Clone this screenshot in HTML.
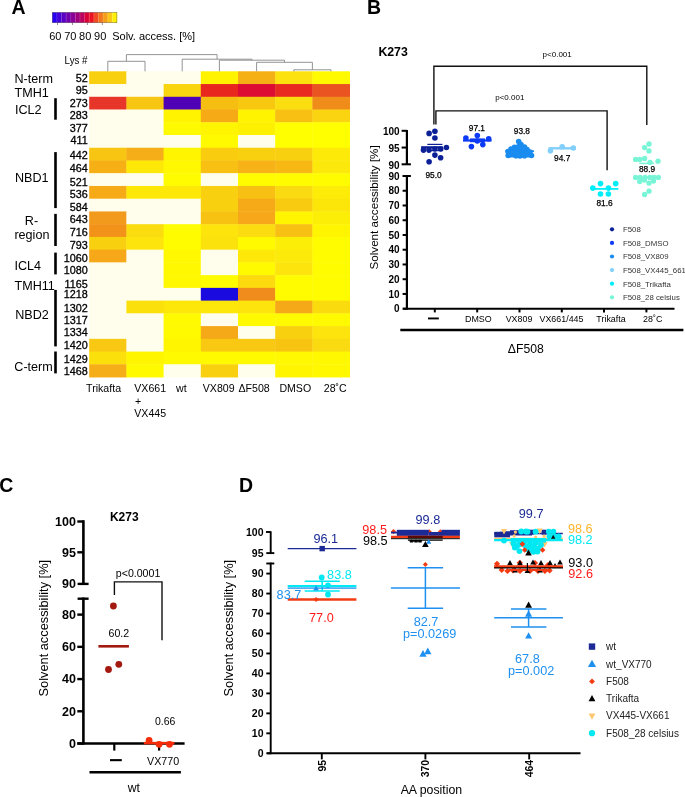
<!DOCTYPE html>
<html><head><meta charset="utf-8"><style>
html,body{margin:0;padding:0;background:#fff;}
svg{display:block;font-family:"Liberation Sans", sans-serif;will-change:transform;}
</style></head><body>
<svg width="685" height="797" viewBox="0 0 685 797">
<rect width="685" height="797" fill="#fff"/>
<text x="11.6" y="14.0" font-size="19.5" text-anchor="start" font-weight="bold" fill="#000" >A</text>
<rect x="52.2" y="12.3" width="4.921428571428572" height="10.5" fill="#2a00f0"/>
<rect x="56.82142857142858" y="12.3" width="4.921428571428572" height="10.5" fill="#4400d8"/>
<rect x="61.44285714285715" y="12.3" width="4.921428571428572" height="10.5" fill="#5a00c4"/>
<rect x="66.06428571428572" y="12.3" width="4.921428571428572" height="10.5" fill="#7000ac"/>
<rect x="70.68571428571428" y="12.3" width="4.921428571428572" height="10.5" fill="#880096"/>
<rect x="75.30714285714286" y="12.3" width="4.921428571428572" height="10.5" fill="#a0007c"/>
<rect x="79.92857142857143" y="12.3" width="4.921428571428572" height="10.5" fill="#bb0060"/>
<rect x="84.55000000000001" y="12.3" width="4.921428571428572" height="10.5" fill="#da0038"/>
<rect x="89.17142857142858" y="12.3" width="4.921428571428572" height="10.5" fill="#ec1424"/>
<rect x="93.79285714285714" y="12.3" width="4.921428571428572" height="10.5" fill="#ef4a20"/>
<rect x="98.41428571428573" y="12.3" width="4.921428571428572" height="10.5" fill="#f2761c"/>
<rect x="103.03571428571429" y="12.3" width="4.921428571428572" height="10.5" fill="#f59e18"/>
<rect x="107.65714285714287" y="12.3" width="4.921428571428572" height="10.5" fill="#f9c614"/>
<rect x="112.27857142857144" y="12.3" width="4.921428571428572" height="10.5" fill="#fff000"/>
<line x1="56.82142857142858" y1="12.3" x2="56.82142857142858" y2="22.8" stroke="#ffffff" stroke-width="0.5" stroke-opacity="0.35"/>
<line x1="61.44285714285715" y1="12.3" x2="61.44285714285715" y2="22.8" stroke="#ffffff" stroke-width="0.5" stroke-opacity="0.35"/>
<line x1="66.06428571428572" y1="12.3" x2="66.06428571428572" y2="22.8" stroke="#ffffff" stroke-width="0.5" stroke-opacity="0.35"/>
<line x1="70.68571428571428" y1="12.3" x2="70.68571428571428" y2="22.8" stroke="#ffffff" stroke-width="0.5" stroke-opacity="0.35"/>
<line x1="75.30714285714286" y1="12.3" x2="75.30714285714286" y2="22.8" stroke="#ffffff" stroke-width="0.5" stroke-opacity="0.35"/>
<line x1="79.92857142857143" y1="12.3" x2="79.92857142857143" y2="22.8" stroke="#ffffff" stroke-width="0.5" stroke-opacity="0.35"/>
<line x1="84.55000000000001" y1="12.3" x2="84.55000000000001" y2="22.8" stroke="#ffffff" stroke-width="0.5" stroke-opacity="0.35"/>
<line x1="89.17142857142858" y1="12.3" x2="89.17142857142858" y2="22.8" stroke="#ffffff" stroke-width="0.5" stroke-opacity="0.35"/>
<line x1="93.79285714285714" y1="12.3" x2="93.79285714285714" y2="22.8" stroke="#ffffff" stroke-width="0.5" stroke-opacity="0.35"/>
<line x1="98.41428571428573" y1="12.3" x2="98.41428571428573" y2="22.8" stroke="#ffffff" stroke-width="0.5" stroke-opacity="0.35"/>
<line x1="103.03571428571429" y1="12.3" x2="103.03571428571429" y2="22.8" stroke="#ffffff" stroke-width="0.5" stroke-opacity="0.35"/>
<line x1="107.65714285714287" y1="12.3" x2="107.65714285714287" y2="22.8" stroke="#ffffff" stroke-width="0.5" stroke-opacity="0.35"/>
<line x1="112.27857142857144" y1="12.3" x2="112.27857142857144" y2="22.8" stroke="#ffffff" stroke-width="0.5" stroke-opacity="0.35"/>
<rect x="52.2" y="12.3" width="64.7" height="10.5" fill="none" stroke="#555" stroke-width="0.4"/>
<line x1="57.5" y1="22.8" x2="57.5" y2="25" stroke="#444" stroke-width="0.6" />
<text x="55.3" y="40.2" font-size="11" text-anchor="middle" fill="#000" >60</text>
<line x1="72.45" y1="22.8" x2="72.45" y2="25" stroke="#444" stroke-width="0.6" />
<text x="70.25" y="40.2" font-size="11" text-anchor="middle" fill="#000" >70</text>
<line x1="87.4" y1="22.8" x2="87.4" y2="25" stroke="#444" stroke-width="0.6" />
<text x="85.2" y="40.2" font-size="11" text-anchor="middle" fill="#000" >80</text>
<line x1="102.35" y1="22.8" x2="102.35" y2="25" stroke="#444" stroke-width="0.6" />
<text x="100.14999999999999" y="40.2" font-size="11" text-anchor="middle" fill="#000" >90</text>
<text x="112.2" y="40.2" font-size="11" text-anchor="start" fill="#000" >Solv. access. [%]</text>
<rect x="89.20" y="71.30" width="37.60" height="13.14" fill="#f8d010"/>
<rect x="126.40" y="71.30" width="37.60" height="13.14" fill="#fffeec"/>
<rect x="163.60" y="71.30" width="37.60" height="13.14" fill="#fffeec"/>
<rect x="200.80" y="71.30" width="37.60" height="13.14" fill="#fff300"/>
<rect x="238.00" y="71.30" width="37.60" height="13.14" fill="#f5b015"/>
<rect x="275.20" y="71.30" width="37.60" height="13.14" fill="#fce20e"/>
<rect x="312.40" y="71.30" width="37.60" height="13.14" fill="#fffa00"/>
<rect x="89.20" y="84.04" width="37.60" height="13.14" fill="#fffeec"/>
<rect x="126.40" y="84.04" width="37.60" height="13.14" fill="#fffeec"/>
<rect x="163.60" y="84.04" width="37.60" height="13.14" fill="#f9d510"/>
<rect x="200.80" y="84.04" width="37.60" height="13.14" fill="#e8281e"/>
<rect x="238.00" y="84.04" width="37.60" height="13.14" fill="#dc0c32"/>
<rect x="275.20" y="84.04" width="37.60" height="13.14" fill="#e82a20"/>
<rect x="312.40" y="84.04" width="37.60" height="13.14" fill="#ea5420"/>
<rect x="89.20" y="96.78" width="37.60" height="13.14" fill="#e8352a"/>
<rect x="126.40" y="96.78" width="37.60" height="13.14" fill="#f7c612"/>
<rect x="163.60" y="96.78" width="37.60" height="13.14" fill="#5000b4"/>
<rect x="200.80" y="96.78" width="37.60" height="13.14" fill="#f7be12"/>
<rect x="238.00" y="96.78" width="37.60" height="13.14" fill="#f8c810"/>
<rect x="275.20" y="96.78" width="37.60" height="13.14" fill="#fade10"/>
<rect x="312.40" y="96.78" width="37.60" height="13.14" fill="#f08c1a"/>
<rect x="89.20" y="109.52" width="37.60" height="13.14" fill="#fffeec"/>
<rect x="126.40" y="109.52" width="37.60" height="13.14" fill="#fffeec"/>
<rect x="163.60" y="109.52" width="37.60" height="13.14" fill="#fff300"/>
<rect x="200.80" y="109.52" width="37.60" height="13.14" fill="#f5aa16"/>
<rect x="238.00" y="109.52" width="37.60" height="13.14" fill="#fff300"/>
<rect x="275.20" y="109.52" width="37.60" height="13.14" fill="#f8c012"/>
<rect x="312.40" y="109.52" width="37.60" height="13.14" fill="#fad410"/>
<rect x="89.20" y="122.26" width="37.60" height="13.14" fill="#fffeec"/>
<rect x="126.40" y="122.26" width="37.60" height="13.14" fill="#fffeec"/>
<rect x="163.60" y="122.26" width="37.60" height="13.14" fill="#fffa00"/>
<rect x="200.80" y="122.26" width="37.60" height="13.14" fill="#fff500"/>
<rect x="238.00" y="122.26" width="37.60" height="13.14" fill="#fdf000"/>
<rect x="275.20" y="122.26" width="37.60" height="13.14" fill="#ffff00"/>
<rect x="312.40" y="122.26" width="37.60" height="13.14" fill="#ffff00"/>
<rect x="89.20" y="135.00" width="37.60" height="13.14" fill="#fffeec"/>
<rect x="126.40" y="135.00" width="37.60" height="13.14" fill="#fffeec"/>
<rect x="163.60" y="135.00" width="37.60" height="13.14" fill="#fffeec"/>
<rect x="200.80" y="135.00" width="37.60" height="13.14" fill="#fffa00"/>
<rect x="238.00" y="135.00" width="37.60" height="13.14" fill="#fffeec"/>
<rect x="275.20" y="135.00" width="37.60" height="13.14" fill="#ffff00"/>
<rect x="312.40" y="135.00" width="37.60" height="13.14" fill="#ffff00"/>
<rect x="89.20" y="147.74" width="37.60" height="13.14" fill="#f8c512"/>
<rect x="126.40" y="147.74" width="37.60" height="13.14" fill="#f6ae18"/>
<rect x="163.60" y="147.74" width="37.60" height="13.14" fill="#fff500"/>
<rect x="200.80" y="147.74" width="37.60" height="13.14" fill="#f9cc10"/>
<rect x="238.00" y="147.74" width="37.60" height="13.14" fill="#f9d010"/>
<rect x="275.20" y="147.74" width="37.60" height="13.14" fill="#f9d010"/>
<rect x="312.40" y="147.74" width="37.60" height="13.14" fill="#fdea08"/>
<rect x="89.20" y="160.48" width="37.60" height="13.14" fill="#f6b016"/>
<rect x="126.40" y="160.48" width="37.60" height="13.14" fill="#fde808"/>
<rect x="163.60" y="160.48" width="37.60" height="13.14" fill="#fff800"/>
<rect x="200.80" y="160.48" width="37.60" height="13.14" fill="#f8c012"/>
<rect x="238.00" y="160.48" width="37.60" height="13.14" fill="#f6b216"/>
<rect x="275.20" y="160.48" width="37.60" height="13.14" fill="#f7b814"/>
<rect x="312.40" y="160.48" width="37.60" height="13.14" fill="#fce80a"/>
<rect x="89.20" y="173.22" width="37.60" height="13.14" fill="#fffeec"/>
<rect x="126.40" y="173.22" width="37.60" height="13.14" fill="#fffeec"/>
<rect x="163.60" y="173.22" width="37.60" height="13.14" fill="#fffc00"/>
<rect x="200.80" y="173.22" width="37.60" height="13.14" fill="#fffeec"/>
<rect x="238.00" y="173.22" width="37.60" height="13.14" fill="#fffc00"/>
<rect x="275.20" y="173.22" width="37.60" height="13.14" fill="#fffc00"/>
<rect x="312.40" y="173.22" width="37.60" height="13.14" fill="#fffc00"/>
<rect x="89.20" y="185.96" width="37.60" height="13.14" fill="#f6aa18"/>
<rect x="126.40" y="185.96" width="37.60" height="13.14" fill="#fde808"/>
<rect x="163.60" y="185.96" width="37.60" height="13.14" fill="#fde808"/>
<rect x="200.80" y="185.96" width="37.60" height="13.14" fill="#f9d010"/>
<rect x="238.00" y="185.96" width="37.60" height="13.14" fill="#f8c012"/>
<rect x="275.20" y="185.96" width="37.60" height="13.14" fill="#fada10"/>
<rect x="312.40" y="185.96" width="37.60" height="13.14" fill="#fdec08"/>
<rect x="89.20" y="198.70" width="37.60" height="13.14" fill="#fffeec"/>
<rect x="126.40" y="198.70" width="37.60" height="13.14" fill="#fffeec"/>
<rect x="163.60" y="198.70" width="37.60" height="13.14" fill="#fffeec"/>
<rect x="200.80" y="198.70" width="37.60" height="13.14" fill="#f9d010"/>
<rect x="238.00" y="198.70" width="37.60" height="13.14" fill="#f6aa18"/>
<rect x="275.20" y="198.70" width="37.60" height="13.14" fill="#f8ca10"/>
<rect x="312.40" y="198.70" width="37.60" height="13.14" fill="#fce60a"/>
<rect x="89.20" y="211.44" width="37.60" height="13.14" fill="#f29a1c"/>
<rect x="126.40" y="211.44" width="37.60" height="13.14" fill="#fffeec"/>
<rect x="163.60" y="211.44" width="37.60" height="13.14" fill="#fffeec"/>
<rect x="200.80" y="211.44" width="37.60" height="13.14" fill="#f8c212"/>
<rect x="238.00" y="211.44" width="37.60" height="13.14" fill="#f6a81a"/>
<rect x="275.20" y="211.44" width="37.60" height="13.14" fill="#fff500"/>
<rect x="312.40" y="211.44" width="37.60" height="13.14" fill="#fdee08"/>
<rect x="89.20" y="224.18" width="37.60" height="13.14" fill="#f29218"/>
<rect x="126.40" y="224.18" width="37.60" height="13.14" fill="#fbdc0e"/>
<rect x="163.60" y="224.18" width="37.60" height="13.14" fill="#fffc00"/>
<rect x="200.80" y="224.18" width="37.60" height="13.14" fill="#fce40c"/>
<rect x="238.00" y="224.18" width="37.60" height="13.14" fill="#fadc10"/>
<rect x="275.20" y="224.18" width="37.60" height="13.14" fill="#f8c012"/>
<rect x="312.40" y="224.18" width="37.60" height="13.14" fill="#fff500"/>
<rect x="89.20" y="236.92" width="37.60" height="13.14" fill="#f9d010"/>
<rect x="126.40" y="236.92" width="37.60" height="13.14" fill="#fde40c"/>
<rect x="163.60" y="236.92" width="37.60" height="13.14" fill="#fffc00"/>
<rect x="200.80" y="236.92" width="37.60" height="13.14" fill="#fce20c"/>
<rect x="238.00" y="236.92" width="37.60" height="13.14" fill="#fffa00"/>
<rect x="275.20" y="236.92" width="37.60" height="13.14" fill="#fdee08"/>
<rect x="312.40" y="236.92" width="37.60" height="13.14" fill="#fffc00"/>
<rect x="89.20" y="249.66" width="37.60" height="13.14" fill="#f6a818"/>
<rect x="126.40" y="249.66" width="37.60" height="13.14" fill="#fffeec"/>
<rect x="163.60" y="249.66" width="37.60" height="13.14" fill="#fff800"/>
<rect x="200.80" y="249.66" width="37.60" height="13.14" fill="#fffeec"/>
<rect x="238.00" y="249.66" width="37.60" height="13.14" fill="#fde80a"/>
<rect x="275.20" y="249.66" width="37.60" height="13.14" fill="#fcea0a"/>
<rect x="312.40" y="249.66" width="37.60" height="13.14" fill="#fffc00"/>
<rect x="89.20" y="262.40" width="37.60" height="13.14" fill="#fffeec"/>
<rect x="126.40" y="262.40" width="37.60" height="13.14" fill="#fffeec"/>
<rect x="163.60" y="262.40" width="37.60" height="13.14" fill="#fff800"/>
<rect x="200.80" y="262.40" width="37.60" height="13.14" fill="#fffeec"/>
<rect x="238.00" y="262.40" width="37.60" height="13.14" fill="#fffa00"/>
<rect x="275.20" y="262.40" width="37.60" height="13.14" fill="#fce40c"/>
<rect x="312.40" y="262.40" width="37.60" height="13.14" fill="#fffc00"/>
<rect x="89.20" y="275.14" width="37.60" height="13.14" fill="#fffeec"/>
<rect x="126.40" y="275.14" width="37.60" height="13.14" fill="#fffeec"/>
<rect x="163.60" y="275.14" width="37.60" height="13.14" fill="#fff800"/>
<rect x="200.80" y="275.14" width="37.60" height="13.14" fill="#fffc00"/>
<rect x="238.00" y="275.14" width="37.60" height="13.14" fill="#fcda0e"/>
<rect x="275.20" y="275.14" width="37.60" height="13.14" fill="#fffc00"/>
<rect x="312.40" y="275.14" width="37.60" height="13.14" fill="#fffc00"/>
<rect x="89.20" y="287.88" width="37.60" height="13.14" fill="#fffeec"/>
<rect x="126.40" y="287.88" width="37.60" height="13.14" fill="#fffeec"/>
<rect x="163.60" y="287.88" width="37.60" height="13.14" fill="#fffeec"/>
<rect x="200.80" y="287.88" width="37.60" height="13.14" fill="#1a0adf"/>
<rect x="238.00" y="287.88" width="37.60" height="13.14" fill="#f08c1c"/>
<rect x="275.20" y="287.88" width="37.60" height="13.14" fill="#fffc00"/>
<rect x="312.40" y="287.88" width="37.60" height="13.14" fill="#fffc00"/>
<rect x="89.20" y="300.62" width="37.60" height="13.14" fill="#fffeec"/>
<rect x="126.40" y="300.62" width="37.60" height="13.14" fill="#fce00c"/>
<rect x="163.60" y="300.62" width="37.60" height="13.14" fill="#fde60a"/>
<rect x="200.80" y="300.62" width="37.60" height="13.14" fill="#fde60a"/>
<rect x="238.00" y="300.62" width="37.60" height="13.14" fill="#fce40c"/>
<rect x="275.20" y="300.62" width="37.60" height="13.14" fill="#f5a818"/>
<rect x="312.40" y="300.62" width="37.60" height="13.14" fill="#fadc0e"/>
<rect x="89.20" y="313.36" width="37.60" height="13.14" fill="#fffeec"/>
<rect x="126.40" y="313.36" width="37.60" height="13.14" fill="#fffeec"/>
<rect x="163.60" y="313.36" width="37.60" height="13.14" fill="#fffa00"/>
<rect x="200.80" y="313.36" width="37.60" height="13.14" fill="#fffeec"/>
<rect x="238.00" y="313.36" width="37.60" height="13.14" fill="#fffa00"/>
<rect x="275.20" y="313.36" width="37.60" height="13.14" fill="#fffa00"/>
<rect x="312.40" y="313.36" width="37.60" height="13.14" fill="#fffa00"/>
<rect x="89.20" y="326.10" width="37.60" height="13.14" fill="#fffeec"/>
<rect x="126.40" y="326.10" width="37.60" height="13.14" fill="#fffeec"/>
<rect x="163.60" y="326.10" width="37.60" height="13.14" fill="#fffa00"/>
<rect x="200.80" y="326.10" width="37.60" height="13.14" fill="#f5a818"/>
<rect x="238.00" y="326.10" width="37.60" height="13.14" fill="#fffeec"/>
<rect x="275.20" y="326.10" width="37.60" height="13.14" fill="#f9d010"/>
<rect x="312.40" y="326.10" width="37.60" height="13.14" fill="#fce40c"/>
<rect x="89.20" y="338.84" width="37.60" height="13.14" fill="#f8c812"/>
<rect x="126.40" y="338.84" width="37.60" height="13.14" fill="#fffeec"/>
<rect x="163.60" y="338.84" width="37.60" height="13.14" fill="#fff500"/>
<rect x="200.80" y="338.84" width="37.60" height="13.14" fill="#f9c812"/>
<rect x="238.00" y="338.84" width="37.60" height="13.14" fill="#f8c812"/>
<rect x="275.20" y="338.84" width="37.60" height="13.14" fill="#f8c412"/>
<rect x="312.40" y="338.84" width="37.60" height="13.14" fill="#fada10"/>
<rect x="89.20" y="351.58" width="37.60" height="13.14" fill="#fce00c"/>
<rect x="126.40" y="351.58" width="37.60" height="13.14" fill="#fff500"/>
<rect x="163.60" y="351.58" width="37.60" height="13.14" fill="#fffa00"/>
<rect x="200.80" y="351.58" width="37.60" height="13.14" fill="#fffa00"/>
<rect x="238.00" y="351.58" width="37.60" height="13.14" fill="#fffa00"/>
<rect x="275.20" y="351.58" width="37.60" height="13.14" fill="#fff800"/>
<rect x="312.40" y="351.58" width="37.60" height="13.14" fill="#fff800"/>
<rect x="89.20" y="364.32" width="37.60" height="13.14" fill="#f6ae18"/>
<rect x="126.40" y="364.32" width="37.60" height="13.14" fill="#fffa00"/>
<rect x="163.60" y="364.32" width="37.60" height="13.14" fill="#fffeec"/>
<rect x="200.80" y="364.32" width="37.60" height="13.14" fill="#f9d010"/>
<rect x="238.00" y="364.32" width="37.60" height="13.14" fill="#fffeec"/>
<rect x="275.20" y="364.32" width="37.60" height="13.14" fill="#fff500"/>
<rect x="312.40" y="364.32" width="37.60" height="13.14" fill="#fff800"/>
<text x="87.8" y="82.10" font-size="10.8" text-anchor="end" fill="#000" stroke="#000" stroke-width="0.3">52</text>
<text x="87.8" y="94.40" font-size="10.8" text-anchor="end" fill="#000" stroke="#000" stroke-width="0.3">95</text>
<text x="87.8" y="107.20" font-size="10.8" text-anchor="end" fill="#000" stroke="#000" stroke-width="0.3">273</text>
<text x="87.8" y="119.30" font-size="10.8" text-anchor="end" fill="#000" stroke="#000" stroke-width="0.3">283</text>
<text x="87.8" y="131.50" font-size="10.8" text-anchor="end" fill="#000" stroke="#000" stroke-width="0.3">377</text>
<text x="87.8" y="144.40" font-size="10.8" text-anchor="end" fill="#000" stroke="#000" stroke-width="0.3">411</text>
<text x="87.8" y="159.40" font-size="10.8" text-anchor="end" fill="#000" stroke="#000" stroke-width="0.3">442</text>
<text x="87.8" y="171.60" font-size="10.8" text-anchor="end" fill="#000" stroke="#000" stroke-width="0.3">464</text>
<text x="87.8" y="186.20" font-size="10.8" text-anchor="end" fill="#000" stroke="#000" stroke-width="0.3">521</text>
<text x="87.8" y="198.40" font-size="10.8" text-anchor="end" fill="#000" stroke="#000" stroke-width="0.3">536</text>
<text x="87.8" y="210.70" font-size="10.8" text-anchor="end" fill="#000" stroke="#000" stroke-width="0.3">584</text>
<text x="87.8" y="223.20" font-size="10.8" text-anchor="end" fill="#000" stroke="#000" stroke-width="0.3">643</text>
<text x="87.8" y="236.10" font-size="10.8" text-anchor="end" fill="#000" stroke="#000" stroke-width="0.3">716</text>
<text x="87.8" y="248.90" font-size="10.8" text-anchor="end" fill="#000" stroke="#000" stroke-width="0.3">793</text>
<text x="87.8" y="261.60" font-size="10.8" text-anchor="end" fill="#000" stroke="#000" stroke-width="0.3">1060</text>
<text x="87.8" y="274.20" font-size="10.8" text-anchor="end" fill="#000" stroke="#000" stroke-width="0.3">1080</text>
<text x="87.8" y="287.50" font-size="10.8" text-anchor="end" fill="#000" stroke="#000" stroke-width="0.3">1165</text>
<text x="87.8" y="298.40" font-size="10.8" text-anchor="end" fill="#000" stroke="#000" stroke-width="0.3">1218</text>
<text x="87.8" y="311.90" font-size="10.8" text-anchor="end" fill="#000" stroke="#000" stroke-width="0.3">1302</text>
<text x="87.8" y="324.40" font-size="10.8" text-anchor="end" fill="#000" stroke="#000" stroke-width="0.3">1317</text>
<text x="87.8" y="336.10" font-size="10.8" text-anchor="end" fill="#000" stroke="#000" stroke-width="0.3">1334</text>
<text x="87.8" y="348.80" font-size="10.8" text-anchor="end" fill="#000" stroke="#000" stroke-width="0.3">1420</text>
<text x="87.8" y="362.50" font-size="10.8" text-anchor="end" fill="#000" stroke="#000" stroke-width="0.3">1429</text>
<text x="87.8" y="375.30" font-size="10.8" text-anchor="end" fill="#000" stroke="#000" stroke-width="0.3">1468</text>
<text transform="translate(87.5,64.1) scale(0.92,1)" font-size="10.6" text-anchor="end" fill="#000" >Lys #</text>
<path d="M107.80,71.30 V61.30 H145.00 V71.30" fill="none" stroke="#888" stroke-width="0.9"/>
<path d="M293.80,71.30 V69.80 H331.00 V71.30" fill="none" stroke="#888" stroke-width="0.9"/>
<path d="M256.60,71.30 V62.30 H312.40 V69.80" fill="none" stroke="#888" stroke-width="0.9"/>
<path d="M219.40,71.30 V60.20 H284.50 V62.30" fill="none" stroke="#888" stroke-width="0.9"/>
<path d="M182.20,71.30 V59.20 H251.95 V60.20" fill="none" stroke="#888" stroke-width="0.9"/>
<path d="M126.40,61.30 V54.60 H217.07 V59.20" fill="none" stroke="#888" stroke-width="0.9"/>
<text x="14.5" y="82.7" font-size="12.6" text-anchor="start" fill="#000" >N-term</text>
<text x="14.5" y="96.5" font-size="12.6" text-anchor="start" fill="#000" >TMH1</text>
<text x="15" y="113.8" font-size="12.6" text-anchor="start" fill="#000" >ICL2</text>
<text x="14.9" y="181.70000000000002" font-size="12.6" text-anchor="start" fill="#000" >NBD1</text>
<text x="31.5" y="224.7" font-size="12.6" text-anchor="middle" fill="#000" >R-</text>
<text x="31.9" y="238.9" font-size="12.6" text-anchor="middle" fill="#000" >region</text>
<text x="14.5" y="269.5" font-size="12.6" text-anchor="start" fill="#000" >ICL4</text>
<text x="14.5" y="290.2" font-size="12.6" text-anchor="start" fill="#000" >TMH11</text>
<text x="15.2" y="319.2" font-size="12.6" text-anchor="start" fill="#000" >NBD2</text>
<text x="14.3" y="370.7" font-size="12.6" text-anchor="start" fill="#000" >C-term</text>
<rect x="54.2" y="98.2" width="2.6" height="21.5" fill="#000"/>
<rect x="54.2" y="152.1" width="2.6" height="56.0" fill="#000"/>
<rect x="54.2" y="213.9" width="2.6" height="32.099999999999994" fill="#000"/>
<rect x="54.2" y="252.6" width="2.6" height="21.799999999999983" fill="#000"/>
<rect x="54.2" y="289.9" width="2.6" height="56.5" fill="#000"/>
<rect x="54.2" y="351.5" width="2.6" height="21.899999999999977" fill="#000"/>
<text x="86.1" y="392" font-size="10.6" text-anchor="start" fill="#000" >Trikafta</text>
<text x="134.3" y="392" font-size="10.6" text-anchor="start" fill="#000" >VX661</text>
<text x="176" y="392" font-size="10.6" text-anchor="start" fill="#000" >wt</text>
<text x="202.8" y="392" font-size="10.6" text-anchor="start" fill="#000" >VX809</text>
<text x="238.5" y="392" font-size="10.6" text-anchor="start" fill="#000" >&#916;F508</text>
<text x="279.4" y="392" font-size="10.6" text-anchor="start" fill="#000" >DMSO</text>
<text x="323.8" y="392" font-size="10.6" text-anchor="start" fill="#000" >28&#730;C</text>
<text x="135" y="404.5" font-size="10.6" text-anchor="start" fill="#000" >+</text>
<text x="134.3" y="416.9" font-size="10.6" text-anchor="start" fill="#000" >VX445</text>
<text x="367.0" y="14.2" font-size="19.5" text-anchor="start" font-weight="bold" fill="#000" >B</text>
<text x="378.4" y="56.2" font-size="12.3" text-anchor="start" font-weight="bold" fill="#000" >K273</text>
<path d="M433.9,124.4 V66.2 H646.8 V125" fill="none" stroke="#111" stroke-width="1.4"/>
<path d="M435.9,124.4 V110.9 H607.1 V170.3" fill="none" stroke="#111" stroke-width="1.4"/>
<text x="542.6" y="57.4" font-size="8.0" text-anchor="start" fill="#000" >p&lt;0.001</text>
<text x="495.2" y="99.8" font-size="8.0" text-anchor="start" fill="#000" >p&lt;0.001</text>
<line x1="406.9" y1="130.0" x2="406.9" y2="164.3" stroke="#000" stroke-width="2.2" />
<line x1="401.6" y1="130.8" x2="406.9" y2="130.8" stroke="#000" stroke-width="2" />
<text x="399.6" y="135.20" font-size="10" text-anchor="end" font-weight="bold" fill="#000" >100</text>
<line x1="401.6" y1="147.55" x2="406.9" y2="147.55" stroke="#000" stroke-width="2" />
<text x="399.6" y="151.95" font-size="10" text-anchor="end" font-weight="bold" fill="#000" >95</text>
<line x1="401.6" y1="164.3" x2="410.9" y2="164.3" stroke="#000" stroke-width="2" />
<text x="399.6" y="168.50" font-size="10" text-anchor="end" font-weight="bold" fill="#000" >90</text>
<line x1="406.9" y1="175" x2="406.9" y2="309.6" stroke="#000" stroke-width="2.2" />
<line x1="402.5" y1="176" x2="410.9" y2="176" stroke="#000" stroke-width="2" />
<text x="399.6" y="179.60" font-size="10" text-anchor="end" font-weight="bold" fill="#000" >90</text>
<line x1="402.6" y1="308.7" x2="406.9" y2="308.7" stroke="#000" stroke-width="2" />
<text x="399.6" y="312.30" font-size="10" text-anchor="end" font-weight="bold" fill="#000" >0</text>
<line x1="402.6" y1="293.956" x2="406.9" y2="293.956" stroke="#000" stroke-width="2" />
<text x="399.6" y="297.56" font-size="10" text-anchor="end" font-weight="bold" fill="#000" >10</text>
<line x1="402.6" y1="279.212" x2="406.9" y2="279.212" stroke="#000" stroke-width="2" />
<text x="399.6" y="282.81" font-size="10" text-anchor="end" font-weight="bold" fill="#000" >20</text>
<line x1="402.6" y1="264.46799999999996" x2="406.9" y2="264.46799999999996" stroke="#000" stroke-width="2" />
<text x="399.6" y="268.07" font-size="10" text-anchor="end" font-weight="bold" fill="#000" >30</text>
<line x1="402.6" y1="249.724" x2="406.9" y2="249.724" stroke="#000" stroke-width="2" />
<text x="399.6" y="253.32" font-size="10" text-anchor="end" font-weight="bold" fill="#000" >40</text>
<line x1="402.6" y1="234.98" x2="406.9" y2="234.98" stroke="#000" stroke-width="2" />
<text x="399.6" y="238.58" font-size="10" text-anchor="end" font-weight="bold" fill="#000" >50</text>
<line x1="402.6" y1="220.236" x2="406.9" y2="220.236" stroke="#000" stroke-width="2" />
<text x="399.6" y="223.84" font-size="10" text-anchor="end" font-weight="bold" fill="#000" >60</text>
<line x1="402.6" y1="205.492" x2="406.9" y2="205.492" stroke="#000" stroke-width="2" />
<text x="399.6" y="209.09" font-size="10" text-anchor="end" font-weight="bold" fill="#000" >70</text>
<line x1="402.6" y1="190.748" x2="406.9" y2="190.748" stroke="#000" stroke-width="2" />
<text x="399.6" y="194.35" font-size="10" text-anchor="end" font-weight="bold" fill="#000" >80</text>
<line x1="402.9" y1="308.7" x2="674.5" y2="308.7" stroke="#000" stroke-width="1.9" />
<line x1="434.8" y1="308.7" x2="434.8" y2="312.4" stroke="#000" stroke-width="2" />
<line x1="477.2" y1="308.7" x2="477.2" y2="312.4" stroke="#000" stroke-width="2" />
<line x1="519.5" y1="308.7" x2="519.5" y2="312.4" stroke="#000" stroke-width="2" />
<line x1="561.8" y1="308.7" x2="561.8" y2="312.4" stroke="#000" stroke-width="2" />
<line x1="604.0" y1="308.7" x2="604.0" y2="312.4" stroke="#000" stroke-width="2" />
<line x1="646.4" y1="308.7" x2="646.4" y2="312.4" stroke="#000" stroke-width="2" />
<rect x="428" y="317.5" width="10.8" height="1.9" fill="#000"/>
<text x="478.3" y="322.3" font-size="8.9" text-anchor="middle" fill="#000" >DMSO</text>
<text x="519.0" y="322.3" font-size="8.9" text-anchor="middle" fill="#000" >VX809</text>
<text x="561.5" y="322.3" font-size="8.9" text-anchor="middle" fill="#000" >VX661/445</text>
<text x="611.0" y="322.3" font-size="8.9" text-anchor="middle" fill="#000" >Trikafta</text>
<text x="652.7" y="322.3" font-size="8.9" text-anchor="middle" fill="#000" >28&#730;C</text>
<line x1="400.3" y1="330.1" x2="683.4" y2="330.1" stroke="#000" stroke-width="2.5" />
<text x="525.8" y="352.6" font-size="12.2" text-anchor="middle" fill="#000" >&#916;F508</text>
<text transform="translate(378.2,207.4) rotate(-90)" font-size="11.65" text-anchor="middle">Solvent accessibility [%]</text>
<circle cx="429.1" cy="133.4" r="2.8" fill="#0b1f97"/>
<circle cx="434.9" cy="131.3" r="2.8" fill="#0b1f97"/>
<circle cx="434.9" cy="138" r="2.8" fill="#0b1f97"/>
<circle cx="423.5" cy="150.1" r="2.8" fill="#0b1f97"/>
<circle cx="429" cy="150.1" r="2.8" fill="#0b1f97"/>
<circle cx="434.9" cy="149" r="2.8" fill="#0b1f97"/>
<circle cx="440.7" cy="149" r="2.8" fill="#0b1f97"/>
<circle cx="446.4" cy="147.5" r="2.8" fill="#0b1f97"/>
<circle cx="434.9" cy="155.1" r="2.8" fill="#0b1f97"/>
<circle cx="440.6" cy="157.7" r="2.8" fill="#0b1f97"/>
<circle cx="429.1" cy="161.8" r="2.8" fill="#0b1f97"/>
<line x1="421.1" y1="147.4" x2="442.7" y2="147.4" stroke="#0b1f97" stroke-width="2.4" />
<line x1="427.3" y1="144.4" x2="442.4" y2="144.4" stroke="#0b1f97" stroke-width="1.2" />
<line x1="427.3" y1="150.6" x2="442.4" y2="150.6" stroke="#0b1f97" stroke-width="1.2" />
<text x="433.5" y="177.8" font-size="8.3" text-anchor="middle" fill="#000" stroke="#000" stroke-width="0.25">95.0</text>
<circle cx="465.9" cy="138.1" r="2.8" fill="#0d3bf5"/>
<circle cx="477.3" cy="135.5" r="2.8" fill="#0d3bf5"/>
<circle cx="488.7" cy="138.7" r="2.8" fill="#0d3bf5"/>
<circle cx="471.4" cy="146.6" r="2.8" fill="#0d3bf5"/>
<circle cx="482.8" cy="144.6" r="2.8" fill="#0d3bf5"/>
<circle cx="477.3" cy="141" r="2.8" fill="#0d3bf5"/>
<line x1="463" y1="140.5" x2="491.6" y2="140.5" stroke="#0d3bf5" stroke-width="2.2" />
<rect x="470" y="138.4" width="15" height="3.8" fill="#0d3bf5"/>
<text x="476.9" y="130.5" font-size="8.3" text-anchor="middle" fill="#000" stroke="#000" stroke-width="0.25">97.1</text>
<circle cx="518.7" cy="141.6" r="2.8" fill="#1a8cf0"/>
<circle cx="521" cy="144.5" r="2.8" fill="#1a8cf0"/>
<circle cx="524.5" cy="147" r="2.8" fill="#1a8cf0"/>
<circle cx="527" cy="149.5" r="2.8" fill="#1a8cf0"/>
<circle cx="530" cy="152" r="2.8" fill="#1a8cf0"/>
<circle cx="514.5" cy="147.2" r="2.8" fill="#1a8cf0"/>
<circle cx="511" cy="149" r="2.8" fill="#1a8cf0"/>
<circle cx="508" cy="151.5" r="2.8" fill="#1a8cf0"/>
<circle cx="516" cy="150" r="2.8" fill="#1a8cf0"/>
<circle cx="520" cy="149" r="2.8" fill="#1a8cf0"/>
<circle cx="524" cy="151" r="2.8" fill="#1a8cf0"/>
<circle cx="512" cy="152" r="2.8" fill="#1a8cf0"/>
<circle cx="508.2" cy="155.5" r="2.8" fill="#1a8cf0"/>
<circle cx="516" cy="155.7" r="2.8" fill="#1a8cf0"/>
<circle cx="520" cy="156" r="2.8" fill="#1a8cf0"/>
<circle cx="524.5" cy="155.7" r="2.8" fill="#1a8cf0"/>
<circle cx="531.5" cy="155.5" r="2.8" fill="#1a8cf0"/>
<circle cx="528" cy="154" r="2.8" fill="#1a8cf0"/>
<polygon points="507.00,151.50 513.00,147.50 518.00,143.50 521.00,143.50 525.00,146.50 530.00,150.50 533.00,154.50 531.00,157.50 508.00,157.50" fill="#1a8cf0"/>
<line x1="505.5" y1="151.2" x2="534" y2="151.2" stroke="#1a8cf0" stroke-width="1.8" />
<text x="521.9" y="133.5" font-size="8.3" text-anchor="middle" fill="#000" stroke="#000" stroke-width="0.25">93.8</text>
<line x1="548.5" y1="148.3" x2="576" y2="148.3" stroke="#82cffb" stroke-width="2.4" />
<circle cx="550.4" cy="150.8" r="2.8" fill="#82cffb"/>
<circle cx="562.2" cy="146.8" r="2.8" fill="#82cffb"/>
<circle cx="573.3" cy="148" r="2.8" fill="#82cffb"/>
<text x="562.2" y="161.4" font-size="8.3" text-anchor="middle" fill="#000" stroke="#000" stroke-width="0.25">94.7</text>
<circle cx="600.5" cy="183.6" r="2.8" fill="#00eefa"/>
<circle cx="615.7" cy="183.6" r="2.8" fill="#00eefa"/>
<circle cx="592.8" cy="188.1" r="2.8" fill="#00eefa"/>
<circle cx="608.4" cy="188.1" r="2.8" fill="#00eefa"/>
<circle cx="600.5" cy="194" r="2.8" fill="#00eefa"/>
<circle cx="608.4" cy="194" r="2.8" fill="#00eefa"/>
<line x1="591" y1="188.9" x2="618.4" y2="188.9" stroke="#00eefa" stroke-width="1.8" />
<text x="604.5" y="206.2" font-size="8.3" text-anchor="middle" fill="#000" stroke="#000" stroke-width="0.25">81.6</text>
<circle cx="649" cy="144" r="2.6599999999999997" fill="#78f5d6"/>
<circle cx="644.6" cy="147.6" r="2.6599999999999997" fill="#78f5d6"/>
<circle cx="649" cy="150.9" r="2.6599999999999997" fill="#78f5d6"/>
<circle cx="635.6" cy="159.4" r="2.6599999999999997" fill="#78f5d6"/>
<circle cx="639.7" cy="159.4" r="2.6599999999999997" fill="#78f5d6"/>
<circle cx="644.6" cy="158.5" r="2.6599999999999997" fill="#78f5d6"/>
<circle cx="658" cy="161.2" r="2.6599999999999997" fill="#78f5d6"/>
<circle cx="650" cy="162.3" r="2.6599999999999997" fill="#78f5d6"/>
<circle cx="635.6" cy="177.4" r="2.6599999999999997" fill="#78f5d6"/>
<circle cx="640" cy="177.4" r="2.6599999999999997" fill="#78f5d6"/>
<circle cx="645" cy="177.4" r="2.6599999999999997" fill="#78f5d6"/>
<circle cx="650" cy="177.4" r="2.6599999999999997" fill="#78f5d6"/>
<circle cx="654" cy="177.4" r="2.6599999999999997" fill="#78f5d6"/>
<circle cx="658.4" cy="177.4" r="2.6599999999999997" fill="#78f5d6"/>
<circle cx="639.7" cy="181.5" r="2.6599999999999997" fill="#78f5d6"/>
<circle cx="649" cy="183.1" r="2.6599999999999997" fill="#78f5d6"/>
<circle cx="653.5" cy="181" r="2.6599999999999997" fill="#78f5d6"/>
<circle cx="644.5" cy="180" r="2.6599999999999997" fill="#78f5d6"/>
<circle cx="649" cy="191.2" r="2.6599999999999997" fill="#78f5d6"/>
<circle cx="644.6" cy="194.5" r="2.6599999999999997" fill="#78f5d6"/>
<line x1="639.3" y1="163.4" x2="653.9" y2="163.4" stroke="#78f5d6" stroke-width="1.5" />
<line x1="635" y1="177.6" x2="660" y2="177.6" stroke="#78f5d6" stroke-width="1.8" />
<text x="647" y="171.5" font-size="8.3" text-anchor="middle" fill="#000" stroke="#000" stroke-width="0.25">88.9</text>
<circle cx="612" cy="229.3" r="2.1" fill="#0b1f97"/>
<text x="623" y="232.10" font-size="7.8" text-anchor="start" fill="#333" >F508</text>
<circle cx="612" cy="242.9" r="2.1" fill="#0d3bf5"/>
<text x="623" y="245.70" font-size="7.8" text-anchor="start" fill="#333" >F508_DMSO</text>
<circle cx="612" cy="256.5" r="2.1" fill="#1a8cf0"/>
<text x="623" y="259.30" font-size="7.8" text-anchor="start" fill="#333" >F508_VX809</text>
<circle cx="612" cy="270.1" r="2.1" fill="#82cffb"/>
<text x="623" y="272.90" font-size="7.8" text-anchor="start" fill="#333" >F508_VX445_661</text>
<circle cx="612" cy="283.7" r="2.1" fill="#00eefa"/>
<text x="623" y="286.50" font-size="7.8" text-anchor="start" fill="#333" >F508_Trikafta</text>
<circle cx="612" cy="297.3" r="2.1" fill="#78f5d6"/>
<text x="623" y="300.10" font-size="7.8" text-anchor="start" fill="#333" >F508_28 celsius</text>
<text x="-0.8" y="491.7" font-size="19.5" text-anchor="start" font-weight="bold" fill="#000" >C</text>
<text x="109.9" y="521.3" font-size="12" text-anchor="start" font-weight="bold" fill="#000" >K273</text>
<line x1="83.4" y1="520.2" x2="83.4" y2="583.9" stroke="#000" stroke-width="2.6" />
<line x1="77.3" y1="521.5" x2="83.4" y2="521.5" stroke="#000" stroke-width="2.4" />
<text x="75.9" y="525.80" font-size="12.5" text-anchor="end" font-weight="bold" fill="#000" >100</text>
<line x1="77.3" y1="552.3" x2="83.4" y2="552.3" stroke="#000" stroke-width="2.4" />
<text x="75.9" y="556.60" font-size="12.5" text-anchor="end" font-weight="bold" fill="#000" >95</text>
<line x1="77.6" y1="583.9" x2="88.6" y2="583.9" stroke="#000" stroke-width="2.4" />
<text x="75.9" y="588.20" font-size="12.5" text-anchor="end" font-weight="bold" fill="#000" >90</text>
<line x1="77.6" y1="598.7" x2="88.6" y2="598.7" stroke="#000" stroke-width="2.4" />
<line x1="83.4" y1="597.5" x2="83.4" y2="744.6" stroke="#000" stroke-width="2.6" />
<line x1="77.3" y1="614.62" x2="83.4" y2="614.62" stroke="#000" stroke-width="2.4" />
<text x="75.9" y="618.92" font-size="12.5" text-anchor="end" font-weight="bold" fill="#000" >80</text>
<line x1="77.3" y1="646.84" x2="83.4" y2="646.84" stroke="#000" stroke-width="2.4" />
<text x="75.9" y="651.14" font-size="12.5" text-anchor="end" font-weight="bold" fill="#000" >60</text>
<line x1="77.3" y1="679.06" x2="83.4" y2="679.06" stroke="#000" stroke-width="2.4" />
<text x="75.9" y="683.36" font-size="12.5" text-anchor="end" font-weight="bold" fill="#000" >40</text>
<line x1="77.3" y1="711.28" x2="83.4" y2="711.28" stroke="#000" stroke-width="2.4" />
<text x="75.9" y="715.58" font-size="12.5" text-anchor="end" font-weight="bold" fill="#000" >20</text>
<line x1="77.3" y1="743.5" x2="83.4" y2="743.5" stroke="#000" stroke-width="2.4" />
<text x="75.9" y="747.80" font-size="12.5" text-anchor="end" font-weight="bold" fill="#000" >0</text>
<line x1="77.3" y1="743.5" x2="184.6" y2="743.5" stroke="#000" stroke-width="2.5" />
<line x1="114.3" y1="743.5" x2="114.3" y2="750.6" stroke="#000" stroke-width="2.2" />
<line x1="159.1" y1="743.5" x2="159.1" y2="750.6" stroke="#000" stroke-width="2.2" />
<rect x="110" y="759.1" width="11.8" height="2.1" fill="#000"/>
<text x="147" y="764.6" font-size="10.7" text-anchor="start" fill="#000" >VX770</text>
<line x1="89.5" y1="772.3" x2="180.9" y2="772.3" stroke="#000" stroke-width="2.6" />
<text x="133.8" y="791.7" font-size="12.2" text-anchor="middle" fill="#000" >wt</text>
<text transform="translate(48.3,628.2) rotate(-90)" font-size="12.8" text-anchor="middle">Solvent accessibility [%]</text>
<path d="M114.4,595 V581.9 H162 V640.3" fill="none" stroke="#111" stroke-width="1.4"/>
<text x="115.8" y="577.1" font-size="10.6" text-anchor="start" fill="#000" >p&lt;0.0001</text>
<circle cx="113.4" cy="606" r="3.4" fill="#a3180f"/>
<circle cx="108.5" cy="669.5" r="3.4" fill="#a3180f"/>
<circle cx="118.8" cy="664.3" r="3.4" fill="#a3180f"/>
<line x1="98.4" y1="646.3" x2="128.9" y2="646.3" stroke="#a3180f" stroke-width="2.6" />
<text x="108.5" y="636.7" font-size="10.6" text-anchor="start" fill="#000" >60.2</text>
<line x1="143.8" y1="743.1" x2="174.4" y2="743.1" stroke="#f42c0a" stroke-width="2.5" />
<circle cx="149.1" cy="740.5" r="3.4" fill="#f42c0a"/>
<circle cx="159.1" cy="744.3" r="3.4" fill="#f42c0a"/>
<circle cx="169.5" cy="744.3" r="3.4" fill="#f42c0a"/>
<text x="154.9" y="725" font-size="10.5" text-anchor="start" fill="#000" >0.66</text>
<text x="239.0" y="491.9" font-size="19.5" text-anchor="start" font-weight="bold" fill="#000" >D</text>
<line x1="270.7" y1="531.3" x2="270.7" y2="553.1" stroke="#000" stroke-width="1.9" />
<line x1="266" y1="532" x2="270.7" y2="532" stroke="#000" stroke-width="1.9" />
<text x="263.5" y="535.8" font-size="10.5" text-anchor="end" font-weight="bold" fill="#000" >100</text>
<line x1="266.3" y1="553.1" x2="274.3" y2="553.1" stroke="#000" stroke-width="1.9" />
<text x="263.5" y="556.9" font-size="10.5" text-anchor="end" font-weight="bold" fill="#000" >95</text>
<line x1="266.3" y1="563.5" x2="274.3" y2="563.5" stroke="#000" stroke-width="1.9" />
<line x1="270.7" y1="562.6" x2="270.7" y2="754.2" stroke="#000" stroke-width="1.9" />
<line x1="266.3" y1="753.3" x2="270.7" y2="753.3" stroke="#000" stroke-width="1.9" />
<text x="263.5" y="757.10" font-size="10.5" text-anchor="end" font-weight="bold" fill="#000" >0</text>
<line x1="266.3" y1="733.3299999999999" x2="270.7" y2="733.3299999999999" stroke="#000" stroke-width="1.9" />
<text x="263.5" y="737.13" font-size="10.5" text-anchor="end" font-weight="bold" fill="#000" >10</text>
<line x1="266.3" y1="713.3599999999999" x2="270.7" y2="713.3599999999999" stroke="#000" stroke-width="1.9" />
<text x="263.5" y="717.16" font-size="10.5" text-anchor="end" font-weight="bold" fill="#000" >20</text>
<line x1="266.3" y1="693.39" x2="270.7" y2="693.39" stroke="#000" stroke-width="1.9" />
<text x="263.5" y="697.19" font-size="10.5" text-anchor="end" font-weight="bold" fill="#000" >30</text>
<line x1="266.3" y1="673.42" x2="270.7" y2="673.42" stroke="#000" stroke-width="1.9" />
<text x="263.5" y="677.22" font-size="10.5" text-anchor="end" font-weight="bold" fill="#000" >40</text>
<line x1="266.3" y1="653.4499999999999" x2="270.7" y2="653.4499999999999" stroke="#000" stroke-width="1.9" />
<text x="263.5" y="657.25" font-size="10.5" text-anchor="end" font-weight="bold" fill="#000" >50</text>
<line x1="266.3" y1="633.4799999999999" x2="270.7" y2="633.4799999999999" stroke="#000" stroke-width="1.9" />
<text x="263.5" y="637.28" font-size="10.5" text-anchor="end" font-weight="bold" fill="#000" >60</text>
<line x1="266.3" y1="613.51" x2="270.7" y2="613.51" stroke="#000" stroke-width="1.9" />
<text x="263.5" y="617.31" font-size="10.5" text-anchor="end" font-weight="bold" fill="#000" >70</text>
<line x1="266.3" y1="593.54" x2="270.7" y2="593.54" stroke="#000" stroke-width="1.9" />
<text x="263.5" y="597.34" font-size="10.5" text-anchor="end" font-weight="bold" fill="#000" >80</text>
<line x1="266.3" y1="573.5699999999999" x2="270.7" y2="573.5699999999999" stroke="#000" stroke-width="1.9" />
<text x="263.5" y="577.37" font-size="10.5" text-anchor="end" font-weight="bold" fill="#000" >90</text>
<line x1="267.2" y1="753.3" x2="580.5" y2="753.3" stroke="#000" stroke-width="2" />
<line x1="321.8" y1="753.3" x2="321.8" y2="759.4" stroke="#000" stroke-width="1.9" />
<text transform="translate(325.60,759.8) rotate(-90)" font-size="10.5" font-weight="bold" text-anchor="end">95</text>
<line x1="425.4" y1="753.3" x2="425.4" y2="759.4" stroke="#000" stroke-width="1.9" />
<text transform="translate(429.20,759.8) rotate(-90)" font-size="10.5" font-weight="bold" text-anchor="end">370</text>
<line x1="529.2" y1="753.3" x2="529.2" y2="759.4" stroke="#000" stroke-width="1.9" />
<text transform="translate(533.00,759.8) rotate(-90)" font-size="10.5" font-weight="bold" text-anchor="end">464</text>
<text x="431.4" y="794.2" font-size="12.3" text-anchor="middle" fill="#000" >AA position</text>
<text transform="translate(233.2,628.2) rotate(-90)" font-size="12.8" text-anchor="middle">Solvent accessibility [%]</text>
<line x1="287.7" y1="548.6" x2="356.4" y2="548.6" stroke="#1b2a94" stroke-width="1.3" />
<rect x="319.5" y="545.9" width="5.4" height="5.4" fill="#1b2a94"/>
<text transform="translate(313.4,543.3) scale(1.06,1)" font-size="12" text-anchor="start" fill="#1b2a94" >96.1</text>
<line x1="304.7" y1="581.3" x2="339.7" y2="581.3" stroke="#00e8f2" stroke-width="1.6" />
<line x1="304.7" y1="591" x2="339.7" y2="591" stroke="#00e8f2" stroke-width="1.6" />
<line x1="322.2" y1="581.3" x2="322.2" y2="591" stroke="#00e8f2" stroke-width="1.6" />
<line x1="287.7" y1="586.2" x2="356.4" y2="586.2" stroke="#00e8f2" stroke-width="2.2" />
<circle cx="321.7" cy="577.5" r="2.9" fill="#00e8f2"/>
<circle cx="328" cy="585.3" r="2.9" fill="#00e8f2"/>
<circle cx="328" cy="594.5" r="2.9" fill="#00e8f2"/>
<line x1="287.7" y1="588.2" x2="356.4" y2="588.2" stroke="#1e90f0" stroke-width="1.3" />
<polygon points="316.10,585.18 313.24,590.38 318.96,590.38" fill="#1e90f0"/>
<line x1="287.7" y1="599.4" x2="356.4" y2="599.4" stroke="#f43a12" stroke-width="2.5" />
<polygon points="316.10,596.90 318.60,599.40 316.10,601.90 313.60,599.40" fill="#f43a12"/>
<text transform="translate(327.1,579.2) scale(1.06,1)" font-size="12" text-anchor="start" fill="#00e8f2" >83.8</text>
<text transform="translate(276.6,598.8) scale(1.06,1)" font-size="12" text-anchor="start" fill="#1e90f0" >83.7</text>
<text transform="translate(309,622.4) scale(1.06,1)" font-size="12" text-anchor="start" fill="#ff1a1a" >77.0</text>
<polygon points="393.50,529.00 396.10,531.60 393.50,534.20 390.90,531.60" fill="#f43a12"/>
<polygon points="429.30,529.30 431.80,531.80 429.30,534.30 426.80,531.80" fill="#f43a12"/>
<polygon points="440.40,529.30 442.90,531.80 440.40,534.30 437.90,531.80" fill="#f43a12"/>
<rect x="396.8" y="529.8" width="32" height="6.1" fill="#1b2a94"/>
<rect x="441.5" y="529.8" width="18.4" height="6.1" fill="#1b2a94"/>
<rect x="429" y="532" width="13" height="3.9" fill="#1b2a94"/>
<line x1="391" y1="532.6" x2="397" y2="532.6" stroke="#1b2a94" stroke-width="1.8" />
<line x1="391.0" y1="536.95" x2="459.9" y2="536.95" stroke="#f43a12" stroke-width="2.2" />
<rect x="407.9" y="535.9" width="34.8" height="2.1" fill="#5a0c04"/>
<line x1="391.0" y1="538.7" x2="459.9" y2="538.7" stroke="#000" stroke-width="1.0" />
<line x1="407.9" y1="540.1" x2="442.7" y2="540.1" stroke="#000" stroke-width="1.4" />
<rect x="409.6" y="540" width="12.3" height="1.8" fill="#000"/>
<polygon points="411.50,539.28 409.74,542.48 413.26,542.48" fill="#000"/>
<polygon points="416.00,539.28 414.24,542.48 417.76,542.48" fill="#000"/>
<polygon points="420.00,539.28 418.24,542.48 421.76,542.48" fill="#000"/>
<polygon points="428.70,539.04 426.17,543.64 431.23,543.64" fill="#1e90f0"/>
<polygon points="425.40,540.90 422.10,546.90 428.70,546.90" fill="#000"/>
<text transform="translate(415.5,524.2) scale(1.06,1)" font-size="12" text-anchor="start" fill="#1b2a94" >99.8</text>
<text transform="translate(362.3,534.3) scale(1.06,1)" font-size="12" text-anchor="start" fill="#ff1a1a" >98.5</text>
<text transform="translate(362.9,544.7) scale(1.06,1)" font-size="12" text-anchor="start" fill="#000" >98.5</text>
<polygon points="425.40,562.00 427.90,564.50 425.40,567.00 422.90,564.50" fill="#f43a12"/>
<line x1="407.7" y1="567.7" x2="443.1" y2="567.7" stroke="#1e90f0" stroke-width="1.5" />
<line x1="390.9" y1="588.1" x2="459.9" y2="588.1" stroke="#1e90f0" stroke-width="1.5" />
<line x1="407.7" y1="608.2" x2="443.1" y2="608.2" stroke="#1e90f0" stroke-width="1.5" />
<line x1="425.4" y1="567.7" x2="425.4" y2="608.2" stroke="#1e90f0" stroke-width="1.5" />
<polygon points="427.80,647.54 424.17,654.14 431.43,654.14" fill="#1e90f0"/>
<polygon points="423.00,650.04 419.37,656.64 426.63,656.64" fill="#1e90f0"/>
<text transform="translate(413.7,625.8) scale(1.06,1)" font-size="12" text-anchor="start" fill="#1e90f0" >82.7</text>
<text transform="translate(402.9,637.9) scale(1.06,1)" font-size="12" text-anchor="start" fill="#1e90f0" >p=0.0269</text>
<rect x="494.5" y="531.8" width="15.5" height="5.6" fill="#1b2a94"/>
<rect x="510" y="530.2" width="22" height="5.3" fill="#1b2a94"/>
<line x1="494.1" y1="533.5" x2="562.8" y2="533.5" stroke="#1b2a94" stroke-width="1.6" />
<rect x="494.5" y="532.0" width="5" height="5" fill="#1b2a94"/>
<rect x="500.0" y="531.7" width="5" height="5" fill="#1b2a94"/>
<rect x="505.0" y="531.3" width="5" height="5" fill="#1b2a94"/>
<rect x="528.8" y="529.7" width="5" height="5" fill="#1b2a94"/>
<rect x="541.6" y="529.7" width="5" height="5" fill="#1b2a94"/>
<polygon points="504.00,534.50 500.98,529.00 507.02,529.00" fill="#ffc870"/>
<polygon points="539.70,534.00 536.68,528.50 542.73,528.50" fill="#ffc870"/>
<polygon points="512.10,547.40 509.08,541.90 515.12,541.90" fill="#ffc870"/>
<polygon points="544.70,547.40 541.68,541.90 547.73,541.90" fill="#ffc870"/>
<line x1="494.1" y1="538.3" x2="562.8" y2="538.3" stroke="#ffc870" stroke-width="1.3" />
<circle cx="515.4" cy="532.1" r="1.6" fill="#ffc870"/>
<circle cx="514.2" cy="535.9" r="1.6" fill="#ffc870"/>
<circle cx="544.1" cy="536.2" r="1.6" fill="#ffc870"/>
<circle cx="535.6" cy="537.1" r="1.6" fill="#ffc870"/>
<line x1="494.1" y1="540.1" x2="562.8" y2="540.1" stroke="#00e8f2" stroke-width="2.2" />
<rect x="510.7" y="538" width="35.3" height="4.6" fill="#00e8f2"/>
<circle cx="504" cy="540.6" r="2.9" fill="#00e8f2"/>
<circle cx="521.2" cy="531.5" r="2.9" fill="#00e8f2"/>
<circle cx="525.9" cy="531.5" r="2.9" fill="#00e8f2"/>
<circle cx="527.5" cy="531.7" r="2.9" fill="#00e8f2"/>
<circle cx="535.6" cy="531.7" r="2.9" fill="#00e8f2"/>
<circle cx="548.8" cy="531.6" r="2.9" fill="#00e8f2"/>
<circle cx="553.4" cy="531.6" r="2.9" fill="#00e8f2"/>
<circle cx="549.4" cy="536.5" r="2.9" fill="#00e8f2"/>
<circle cx="558.7" cy="536.5" r="2.9" fill="#00e8f2"/>
<circle cx="554" cy="536.5" r="2.9" fill="#00e8f2"/>
<circle cx="514.8" cy="547.6" r="2.9" fill="#00e8f2"/>
<circle cx="519.4" cy="551.1" r="2.9" fill="#00e8f2"/>
<circle cx="517.1" cy="546" r="2.9" fill="#00e8f2"/>
<circle cx="520" cy="544" r="2.9" fill="#00e8f2"/>
<circle cx="526" cy="546.5" r="2.9" fill="#00e8f2"/>
<circle cx="530" cy="544" r="2.9" fill="#00e8f2"/>
<circle cx="534" cy="546" r="2.9" fill="#00e8f2"/>
<circle cx="538" cy="548.5" r="2.9" fill="#00e8f2"/>
<circle cx="532" cy="550" r="2.9" fill="#00e8f2"/>
<circle cx="527" cy="549" r="2.9" fill="#00e8f2"/>
<circle cx="513.5" cy="543.5" r="2.9" fill="#00e8f2"/>
<circle cx="536" cy="542.5" r="2.9" fill="#00e8f2"/>
<circle cx="541" cy="545" r="2.9" fill="#00e8f2"/>
<circle cx="524" cy="543" r="2.9" fill="#00e8f2"/>
<circle cx="537.5" cy="551.5" r="2.9" fill="#00e8f2"/>
<circle cx="533.5" cy="551.8" r="2.9" fill="#00e8f2"/>
<circle cx="529" cy="547" r="2.9" fill="#00e8f2"/>
<polygon points="522.40,541.30 525.20,544.10 522.40,546.90 519.60,544.10" fill="#f43a12"/>
<polygon points="524.70,547.20 527.50,550.00 524.70,552.80 521.90,550.00" fill="#f43a12"/>
<polygon points="542.60,547.20 545.40,550.00 542.60,552.80 539.80,550.00" fill="#f43a12"/>
<polygon points="528.50,549.60 525.20,555.60 531.80,555.60" fill="#000"/>
<polygon points="553.20,534.70 551.00,538.70 555.40,538.70" fill="#111"/>
<polygon points="497.00,560.70 500.10,563.80 497.00,566.90 493.90,563.80" fill="#f43a12"/>
<polygon points="519.80,559.70 522.90,562.80 519.80,565.90 516.70,562.80" fill="#f43a12"/>
<polygon points="501.70,566.90 504.80,570.00 501.70,573.10 498.60,570.00" fill="#f43a12"/>
<polygon points="507.50,567.90 510.60,571.00 507.50,574.10 504.40,571.00" fill="#f43a12"/>
<polygon points="513.00,567.40 516.10,570.50 513.00,573.60 509.90,570.50" fill="#f43a12"/>
<polygon points="520.00,567.90 523.10,571.00 520.00,574.10 516.90,571.00" fill="#f43a12"/>
<polygon points="530.00,567.90 533.10,571.00 530.00,574.10 526.90,571.00" fill="#f43a12"/>
<polygon points="538.00,567.90 541.10,571.00 538.00,574.10 534.90,571.00" fill="#f43a12"/>
<polygon points="544.90,567.90 548.00,571.00 544.90,574.10 541.80,571.00" fill="#f43a12"/>
<polygon points="535.00,559.90 538.10,563.00 535.00,566.10 531.90,563.00" fill="#f43a12"/>
<polygon points="548.00,561.90 551.10,565.00 548.00,568.10 544.90,565.00" fill="#f43a12"/>
<polygon points="549.60,567.40 552.70,570.50 549.60,573.60 546.50,570.50" fill="#f43a12"/>
<polygon points="510.00,560.08 507.14,565.28 512.86,565.28" fill="#000"/>
<polygon points="520.00,560.08 517.14,565.28 522.86,565.28" fill="#000"/>
<polygon points="533.00,559.38 530.14,564.58 535.86,564.58" fill="#000"/>
<polygon points="541.00,560.08 538.14,565.28 543.86,565.28" fill="#000"/>
<polygon points="550.00,560.08 547.14,565.28 552.86,565.28" fill="#000"/>
<polygon points="560.00,559.38 557.14,564.58 562.86,564.58" fill="#000"/>
<polygon points="515.00,567.38 512.14,572.58 517.86,572.58" fill="#000"/>
<polygon points="527.40,567.88 524.54,573.08 530.26,573.08" fill="#000"/>
<polygon points="540.00,567.38 537.14,572.58 542.86,572.58" fill="#000"/>
<polygon points="555.00,562.88 552.14,568.08 557.86,568.08" fill="#000"/>
<line x1="494.1" y1="566.6" x2="563" y2="566.6" stroke="#f43a12" stroke-width="2.6" />
<line x1="494.1" y1="567.9" x2="563" y2="567.9" stroke="#000" stroke-width="1.1" />
<line x1="508.7" y1="570" x2="548.4" y2="570" stroke="#f43a12" stroke-width="2" />
<line x1="527.4" y1="563" x2="527.4" y2="571" stroke="#000" stroke-width="1.2" />
<text transform="translate(518.8,518.3) scale(1.06,1)" font-size="12" text-anchor="start" fill="#1b2a94" >99.7</text>
<text transform="translate(567.9,533) scale(1.06,1)" font-size="12" text-anchor="start" fill="#fdb52c" >98.6</text>
<text transform="translate(567.9,544.2) scale(1.06,1)" font-size="12" text-anchor="start" fill="#00e8f2" >98.2</text>
<text transform="translate(568.3,566.7) scale(1.06,1)" font-size="12" text-anchor="start" fill="#000" >93.0</text>
<text transform="translate(568.3,578.2) scale(1.06,1)" font-size="12" text-anchor="start" fill="#ff1a1a" >92.6</text>
<polygon points="528.60,601.58 525.19,607.78 532.01,607.78" fill="#000"/>
<line x1="511" y1="609" x2="546.4" y2="609" stroke="#1e90f0" stroke-width="1.5" />
<line x1="494.2" y1="617.7" x2="562.9" y2="617.7" stroke="#1e90f0" stroke-width="1.5" />
<line x1="511" y1="626.9" x2="546.4" y2="626.9" stroke="#1e90f0" stroke-width="1.5" />
<line x1="528.6" y1="609" x2="528.6" y2="626.9" stroke="#1e90f0" stroke-width="1.5" />
<polygon points="528.60,610.26 525.08,616.66 532.12,616.66" fill="#1e90f0"/>
<polygon points="528.60,632.16 525.08,638.56 532.12,638.56" fill="#1e90f0"/>
<text transform="translate(515,662.6) scale(1.06,1)" font-size="12" text-anchor="start" fill="#1e90f0" >67.8</text>
<text transform="translate(508,675) scale(1.06,1)" font-size="12" text-anchor="start" fill="#1e90f0" >p=0.002</text>
<rect x="588.8" y="643.4" width="6.4" height="6.4" fill="#1b2a94"/>
<polygon points="592.00,659.72 587.93,667.12 596.07,667.12" fill="#1e90f0"/>
<polygon points="592.00,678.52 594.90,681.42 592.00,684.32 589.10,681.42" fill="#f43a12"/>
<polygon points="592.00,694.96 588.59,701.16 595.41,701.16" fill="#000"/>
<polygon points="592.00,719.66 588.59,713.46 595.41,713.46" fill="#ffc870"/>
<circle cx="592" cy="733.2" r="3.1" fill="#00e8f2"/>
<text x="606.1" y="650.40" font-size="10" text-anchor="start" fill="#222" >wt</text>
<text x="606.1" y="667.66" font-size="10" text-anchor="start" fill="#222" >wt_VX770</text>
<text x="606.1" y="684.92" font-size="10" text-anchor="start" fill="#222" >F508</text>
<text x="606.1" y="702.18" font-size="10" text-anchor="start" fill="#222" >Trikafta</text>
<text x="606.1" y="719.44" font-size="10" text-anchor="start" fill="#222" >VX445-VX661</text>
<text x="606.1" y="736.70" font-size="10" text-anchor="start" fill="#222" >F508_28 celsius</text>
</svg></body></html>
